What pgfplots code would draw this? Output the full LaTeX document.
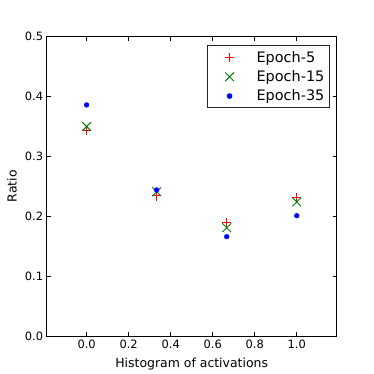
\documentclass[border=0pt]{standalone}
\usepackage{fontspec}
\setmainfont{DejaVu Sans}
\usepackage{pgfplots}
\pgfplotsset{compat=1.18}
\definecolor{mplgreen}{rgb}{0,0.5,0}
\definecolor{mplred}{rgb}{1,0,0}
\definecolor{mplblue}{rgb}{0,0,1}
\begin{document}
\begin{tikzpicture}
\path[use as bounding box] (-46.7bp,-38bp) rectangle (327.3bp,336bp);
\begin{axis}[
  at={(0,0)}, anchor=south west,
  scale only axis,
  width=290bp, height=299.3bp,
  xmin=-0.19, xmax=1.19,
  ymin=0, ymax=0.5,
  xtick={0,0.2,0.4,0.6,0.8,1.0},
  ytick={0,0.1,0.2,0.3,0.4,0.5},
  tick align=inside,
  major tick length=4bp,
  tick style={black, line width=0.6bp},
  axis line style={black, line width=0.9bp},
  xticklabel style={font=\fontsize{11.5}{13}\selectfont},
  yticklabel style={font=\fontsize{11.5}{13}\selectfont},
  /pgf/number format/assume math mode=true,
  /pgf/number format/.cd, fixed, fixed zerofill, precision=1,
  /pgfplots/.cd,
  xlabel={Histogram of activations},
  ylabel={Ratio},
  label style={font=\fontsize{12.5}{14}\selectfont},
  xlabel style={at={(axis description cs:0.5,-0.1036)}, anchor=base},
  ylabel style={at={(axis description cs:-0.1034,0.5)}, anchor=base, rotate=0},
  legend style={at={(0.9745,0.971)}, anchor=north east,
    draw=black!85, line width=0.8bp, font=\fontsize{14.5}{16}\selectfont,
    inner xsep=4.5bp, inner ysep=5.5bp, row sep=6.8bp,
    nodes={inner sep=0bp}},
  legend cell align=left,
  legend image code/.code={%
    \path[draw=none, fill=none] (0bp,-4bp) rectangle (44.2bp,4bp);
    \draw[#1] plot coordinates {(17.2bp,0bp)};},
]
\addplot[only marks, mark=+, mark size=4.6bp, color=mplred, line width=1.1bp,
  mark options={draw=mplred, solid},
  legend image code/.code={%
    \path[draw=none, fill=none] (0bp,-4bp) rectangle (44.2bp,4bp);
    \draw[draw=mplred, line width=1.2bp] (12.6bp,0bp) -- (21.8bp,0bp);
    \draw[draw=mplred, line width=1.2bp] (17.2bp,-4.6bp) -- (17.2bp,4.6bp);}]
  coordinates {(0,0.343) (0.3333,0.234) (0.6667,0.189) (1.0,0.231)};
\addlegendentry{Epoch-5}
\addplot[only marks, mark=x, mark size=6.2bp, color=mplgreen, line width=0.9bp,
  mark options={draw=mplgreen, solid}]
  coordinates {(0,0.350) (0.3333,0.241) (0.6667,0.181) (1.0,0.224)};
\addlegendentry{Epoch-15}
\addplot[only marks, mark=*, mark size=2.4bp, color=mplblue,
  mark options={draw=mplblue, fill=mplblue}]
  coordinates {(0,0.386) (0.3333,0.244) (0.6667,0.166) (1.0,0.201)};
\addlegendentry{Epoch-35}
\end{axis}
\end{tikzpicture}
\end{document}
